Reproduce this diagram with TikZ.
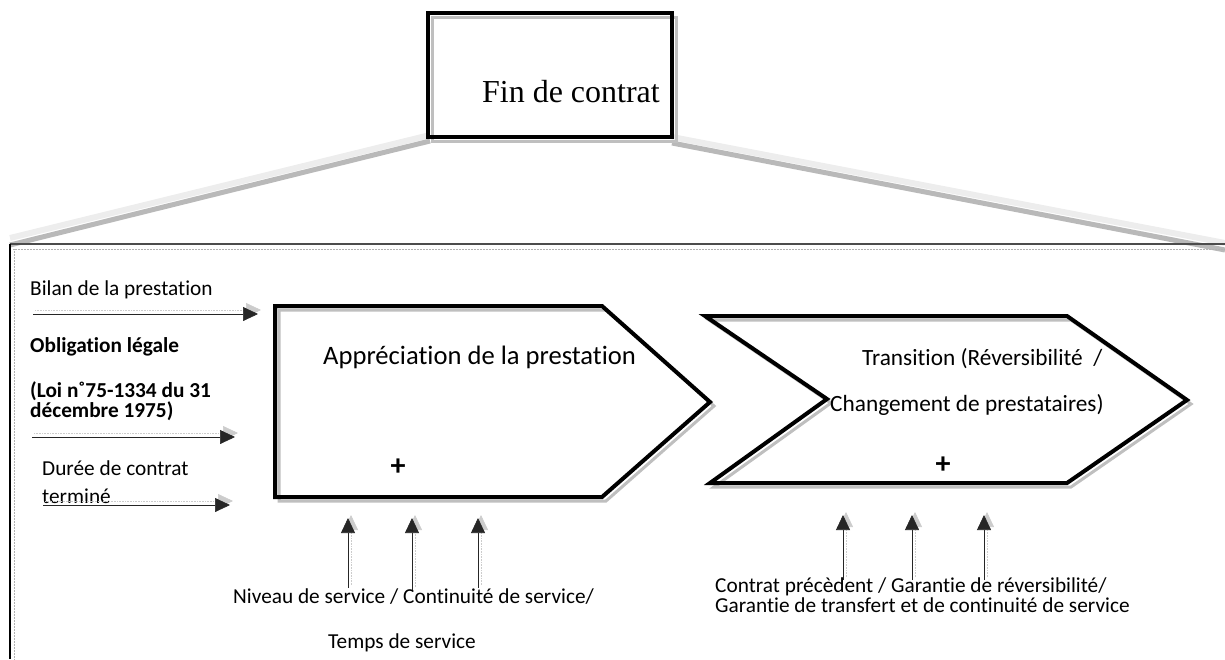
\documentclass[tikz,border=0pt]{standalone}
\usepackage{fontspec}
\setmainfont{Carlito}[Ligatures={NoCommon}]
\newfontfamily\timesf{Liberation Serif}
\usetikzlibrary{arrows.meta}
\begin{document}
\begin{tikzpicture}[x=1pt,y=-1pt,
  shapeline/.style={line width=4pt, line join=miter, black},
  shadowline/.style={line width=3pt, line join=miter, gray!50},
  txt/.style={inner sep=0pt, anchor=base west, font=\fontsize{21.3}{21}\selectfont},
  flow/.style={-{Triangle[length=15pt,width=14pt]}, line width=0.7pt, black!85},
  flowshadow/.style={-{Triangle[length=15pt,width=14pt]}, line width=0.6pt, gray!40, densely dotted},
  bandlight/.style={line width=6pt, black!7},
  banddark/.style={line width=5pt, gray!55},
  plus/.style={inner sep=0pt, font=\bfseries\fontsize{30}{30}\selectfont},
]
\useasboundingbox (0,0) rectangle (1225,659);

% zoom bands
\coordinate (fbl) at (430,138);
\coordinate (fbr) at (672,140);
\coordinate (zl) at (10,241);
\coordinate (zr) at (1225,246);
\draw[bandlight] ([yshift=3]fbl) -- ([yshift=3]zl);
\draw[banddark] ([yshift=-3]fbl) -- ([yshift=-4]zl);
\draw[bandlight] ([yshift=3]fbr) -- ([yshift=3]zr);
\draw[banddark] ([yshift=-3]fbr) -- ([yshift=-4]zr);

% big frame
\coordinate (frtl) at (10,244);
\draw[line width=1.2pt, black!70] (frtl) -- (1225,244);
\draw[line width=0.5pt, gray!60, densely dotted] (13,249) -- (1225,249);
\draw[line width=1.5pt] (frtl) -- (10,659);
\draw[line width=0.5pt, gray!60, densely dotted] (14,249) -- (14,659);

% Fin de contrat box
\draw[shadowline] (432,17) rectangle (676,141);
\node[draw, shapeline, minimum width=244pt, minimum height=124pt, inner sep=0pt] (fin) at (550,75) {};
\node[inner sep=0pt, anchor=base east, font=\timesf\fontsize{32}{36}\selectfont] (fintxt) at (660,102) {Fin de contrat};

% Appreciation chevron
\draw[shadowline, xshift=4pt, yshift=-4pt] (275,306) -- (602,306) -- (710,402) -- (602,497) -- (275,497) -- cycle;
\draw[shapeline] (275,306) coordinate (a1) -- (602,306) -- (710,402) coordinate (atip) -- (602,497) -- (275,497) coordinate (a5) -- cycle;
\node[inner sep=0pt, anchor=base west, font=\fontsize{26.6}{30}\selectfont] (apptxt) at (323,364) {Appréciation de la prestation};
\node[plus] (aplus) at (398,467) {+};

% Transition chevron
\draw[shadowline, xshift=4pt, yshift=-4pt] (705,316) -- (1067,316) -- (1187,400) -- (1067,483) -- (710,483) -- (827,399) -- cycle;
\draw[shapeline] (705,316) -- (1067,316) -- (1187,400) coordinate (ttip) -- (1067,483) -- (710,483) -- (827,399) coordinate (tnotch) -- cycle;
\node[inner sep=0pt, anchor=base west, font=\fontsize{23.3}{26}\selectfont] (tr1) at (862,365) {Transition (Réversibilité~~/};
\node[inner sep=0pt, anchor=base west, font=\fontsize{23.3}{26}\selectfont] (tr2) at (830,411) {Changement de prestataires)};
\node[plus] (tplus) at (943,465) {+};

% left inputs
\node[txt] (bilan) at (30,295) {Bilan de la prestation};
\node[txt, font=\bfseries\fontsize{21.3}{21}\selectfont] (oblig) at (30,352) {Obligation légale};
\node[txt, align=left, font=\bfseries\fontsize{21.3}{20}\selectfont] (loi) at (30,417) {(Loi n˚75-1334 du 31\\décembre 1975)};
\node[txt] (duree) at (42,475) {Durée de contrat};
\node[txt] (termine) at (42,503) {terminé};

\coordinate (l1s) at (33,314);   \coordinate (l1e) at (258,314);
\coordinate (l2s) at (32,437);   \coordinate (l2e) at (235,437);
\coordinate (l3s) at (43,505);   \coordinate (l3e) at (230,505);
\foreach \s/\e in {l1s/l1e,l2s/l2e,l3s/l3e}{
  \draw[flowshadow] ([shift={(2,-4)}]\s) -- ([shift={(3,-4)}]\e);
  \draw[flow] (\s) -- (\e);
}

% bottom inputs left
\node[txt] (niv) at (233,603) {Niveau de service / Continuité de service/};
\node[txt] (temps) at (328,648) {Temps de service};
\coordinate (b1s) at (348,588); \coordinate (b1e) at (348,518);
\coordinate (b2s) at (412,590); \coordinate (b2e) at (412,518);
\coordinate (b3s) at (478,588); \coordinate (b3e) at (478,518);
% bottom inputs right
\node[txt, align=left, font=\fontsize{21.3}{17}\selectfont] (contrat) at (715,612) {Contrat précèdent / Garantie de réversibilité/\\Garantie de transfert et de continuité de service};
\coordinate (c1s) at (843,580); \coordinate (c1e) at (843,515);
\coordinate (c2s) at (912,580); \coordinate (c2e) at (912,515);
\coordinate (c3s) at (984,580); \coordinate (c3e) at (984,515);
\foreach \s/\e in {b1s/b1e,b2s/b2e,b3s/b3e,c1s/c1e,c2s/c2e,c3s/c3e}{
  \draw[flowshadow] ([shift={(3,-3)}]\s) -- ([shift={(3,-3)}]\e);
  \draw[flow] (\s) -- (\e);
}
\end{tikzpicture}
\end{document}
